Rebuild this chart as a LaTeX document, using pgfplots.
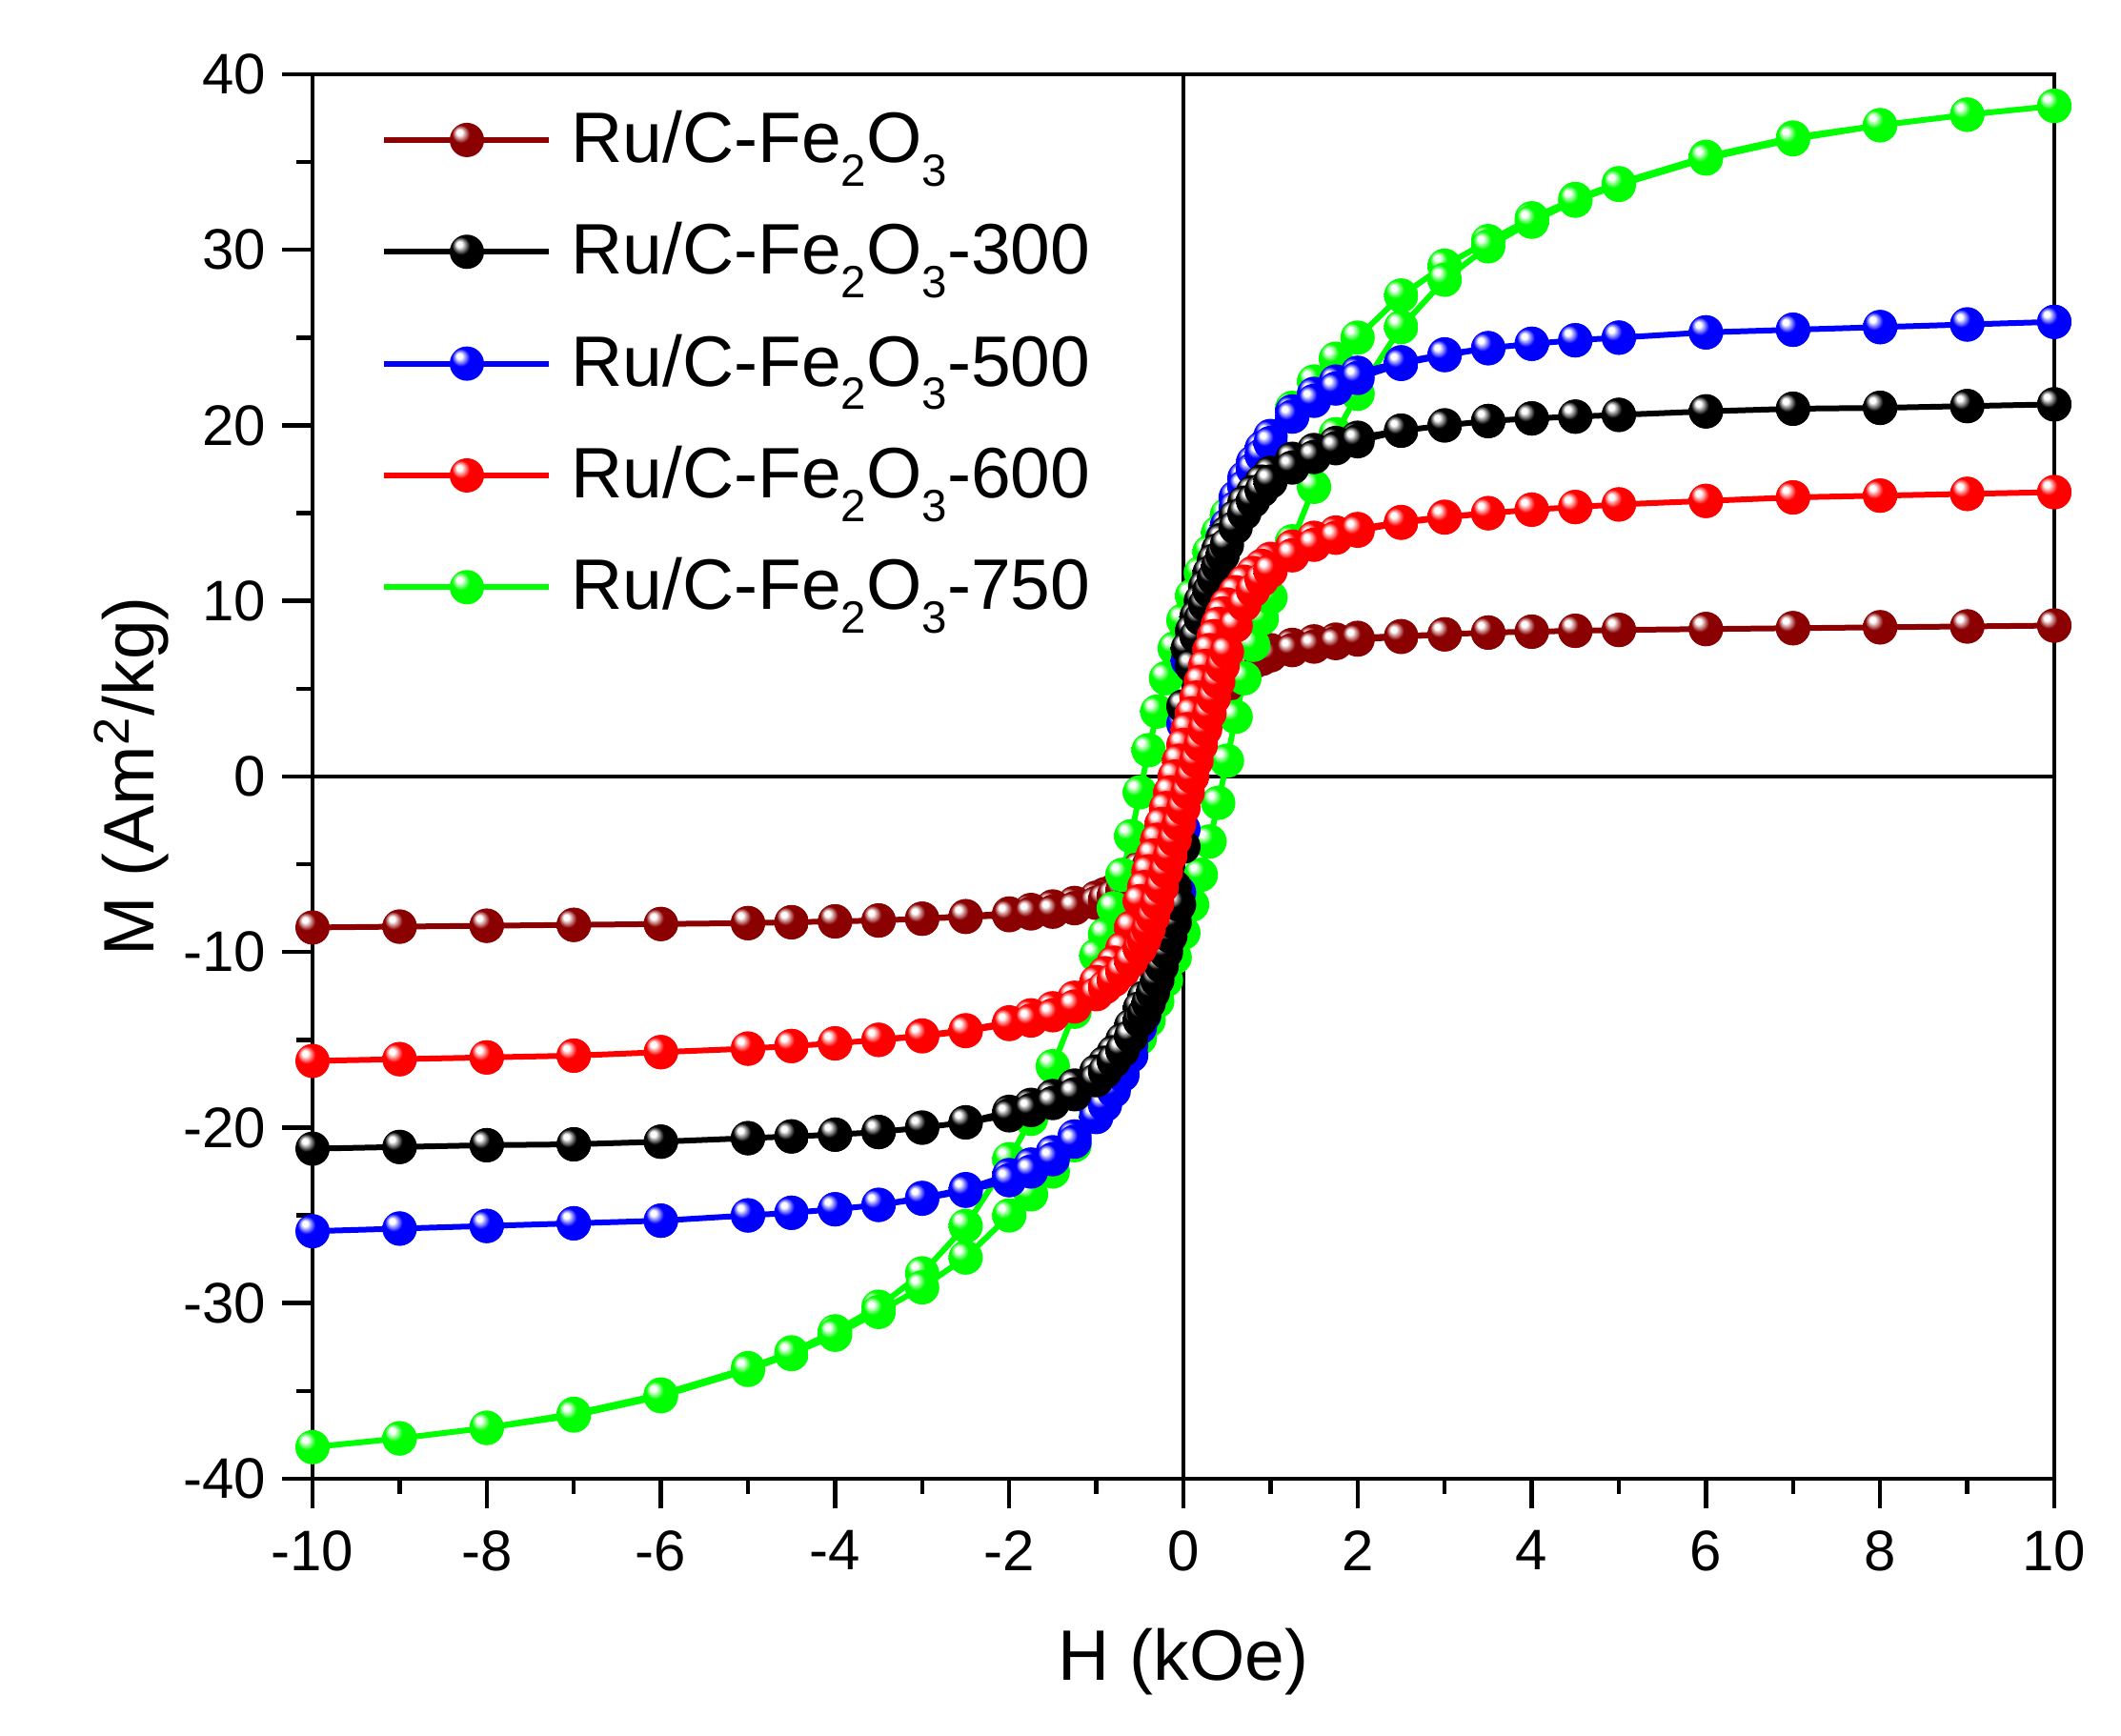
\documentclass[border=0pt]{standalone}
\usepackage{fontspec}
\setmainfont{Liberation Sans}
\usepackage{pgfplots}
\pgfplotsset{compat=1.18}

\definecolor{cdr}{RGB}{139,0,0}
\definecolor{cbk}{RGB}{0,0,0}
\definecolor{cbl}{RGB}{0,0,255}
\definecolor{crd}{RGB}{255,0,0}
\definecolor{cgr}{RGB}{0,255,0}

\colorlet{ballc}{red}
\pgfdeclareradialshading[ballc]{oballshade}{\pgfpoint{-12bp}{12bp}}{%
  color(0bp)=(white);
  color(4bp)=(white);
  color(13bp)=(ballc);
  color(40bp)=(ballc);
  color(50bp)=(ballc!70!black)}
\pgfdeclareplotmark{oball}{%
  \pgfpathcircle{\pgfpointorigin}{\pgfplotmarksize}%
  \pgfshadepath{oballshade}{0}%
  \pgfusepath{}%
}
\tikzset{ballc/.code={\colorlet{ballc}{#1}}}
\pgfplotsset{
  ser/.style={color=#1, line width=1.2pt, mark=oball, mark size=3.6pt, mark options={ballc=#1}},
}
\newcommand{\sub}[1]{\raisebox{-0.33em}{\fontsize{9.5}{10}\selectfont #1}}

\begin{document}
\begin{tikzpicture}
\useasboundingbox (-65.6pt,-54pt) rectangle (379.6pt,310.4pt);
\begin{axis}[
  at={(0pt,0pt)}, anchor=south west,
  scale only axis, width=365.6pt, height=294.8pt,
  xmin=-10, xmax=10, ymin=-40, ymax=40,
  xtick={-10,-8,...,10}, ytick={-40,-30,...,40},
  minor x tick num=1, minor y tick num=1,
  tick align=outside, xtick pos=left, ytick pos=left,
  major tick length=6.3pt, minor tick length=3.3pt,
  every tick/.style={black, line width=0.9pt},
  axis line style={line width=0.9pt},
  tick label style={font=\fontsize{12}{14}\selectfont},
  xticklabel style={yshift=-1.1pt},
  /pgf/number format/assume math mode=true,
  xlabel={H (kOe)}, ylabel={M (Am\textsuperscript{2}/kg)},
  label style={font=\fontsize{15}{18}\selectfont},
  xlabel style={at={(axis description cs:0.5,-0.130)}, anchor=center},
  ylabel style={at={(axis description cs:-0.104,0.5)}, anchor=center},
  legend image code/.code={\draw[mark repeat=2,mark phase=2] plot coordinates {(0pt,0pt) (17.3pt,0pt) (34.6pt,0pt)};},
  legend style={draw=none, fill=none, at={(axis description cs:0,1)}, anchor=north west, xshift=14.3pt, yshift=-5.4pt,
    font=\fontsize{15}{18}\selectfont, row sep=7.1pt, inner sep=0pt,
    /tikz/every odd column/.append style={column sep=2pt}},
  legend cell align=left,
]
\addplot[black, line width=0.7pt, forget plot] coordinates {(-10,0) (10,0)};
\addplot[black, line width=0.7pt, forget plot] coordinates {(0,-40) (0,40)};

% Ru/C-Fe2O3
\addplot[ser=cdr, forget plot] coordinates {
(10,8.6) (9,8.55) (8,8.5) (7,8.45) (6,8.4) (5,8.35) (4.5,8.3) (4,8.25) (3.5,8.2) (3,8.1) (2.5,8.0) (2,7.9) (1.75,7.8) (1.5,7.7) (1.25,7.5) (1,7.2) (0.9,7.0) (0.8,6.8) (0.7,6.5) (0.6,6.2) (0.5,5.8) (0.4,5.1) (0.3,4.1) (0.2,2.9) (0.1,1.6) (0,0.3) (-0.1,-1.0) (-0.2,-2.2) (-0.3,-3.4) (-0.4,-4.4) (-0.5,-5.2) (-0.6,-5.8) (-0.7,-6.2) (-0.8,-6.5) (-0.9,-6.7) (-1,-6.9) (-1.25,-7.2) (-1.5,-7.4) (-1.75,-7.6) (-2,-7.8) (-2.5,-7.95) (-3,-8.1) (-3.5,-8.2) (-4,-8.25) (-4.5,-8.3) (-5,-8.35) (-6,-8.4) (-7,-8.45) (-8,-8.5) (-9,-8.55) (-10,-8.6)
(-9,-8.55) (-8,-8.5) (-7,-8.45) (-6,-8.4) (-5,-8.35) (-4.5,-8.3) (-4,-8.25) (-3.5,-8.2) (-3,-8.1) (-2.5,-8.0) (-2,-7.9) (-1.75,-7.8) (-1.5,-7.7) (-1.25,-7.5) (-1,-7.2) (-0.9,-7.0) (-0.8,-6.8) (-0.7,-6.5) (-0.6,-6.2) (-0.5,-5.8) (-0.4,-5.1) (-0.3,-4.1) (-0.2,-2.9) (-0.1,-1.6) (0,-0.3) (0.1,1.0) (0.2,2.2) (0.3,3.4) (0.4,4.4) (0.5,5.2) (0.6,5.8) (0.7,6.2) (0.8,6.5) (0.9,6.7) (1,6.9) (1.25,7.2) (1.5,7.4) (1.75,7.6) (2,7.8) (2.5,7.95) (3,8.1) (3.5,8.2) (4,8.25) (4.5,8.3) (5,8.35) (6,8.4) (7,8.45) (8,8.5) (9,8.55) (10,8.6)
};

% Ru/C-Fe2O3-750
\addplot[ser=cgr, forget plot] coordinates {
(10,38.2) (9,37.7) (8,37.1) (7,36.4) (6,35.3) (5,33.8) (4.5,32.9) (4,31.8) (3.5,30.5) (3,29.1) (2.5,27.4) (2,25.0) (1.75,23.8) (1.5,22.5) (1.25,21.0) (1,19.3) (0.9,18.5) (0.8,17.6) (0.7,16.7) (0.6,15.8) (0.5,14.9) (0.4,13.9) (0.3,12.8) (0.2,11.6) (0.1,10.3) (0,8.9) (-0.1,7.3) (-0.2,5.6) (-0.3,3.7) (-0.4,1.5) (-0.5,-0.9) (-0.6,-3.4) (-0.7,-5.6) (-0.8,-7.5) (-0.9,-9.0) (-1,-10.2) (-1.25,-13.4) (-1.5,-16.5) (-1.75,-19.5) (-2,-21.8) (-2.5,-25.6) (-3,-28.3) (-3.5,-30.2) (-4,-31.6) (-4.5,-32.8) (-5,-33.7) (-6,-35.2) (-7,-36.3) (-8,-37.1) (-9,-37.7) (-10,-38.2)
(-9,-37.7) (-8,-37.1) (-7,-36.4) (-6,-35.3) (-5,-33.8) (-4.5,-32.9) (-4,-31.8) (-3.5,-30.5) (-3,-29.1) (-2.5,-27.4) (-2,-25.0) (-1.75,-23.8) (-1.5,-22.5) (-1.25,-21.0) (-1,-19.3) (-0.9,-18.5) (-0.8,-17.6) (-0.7,-16.7) (-0.6,-15.8) (-0.5,-14.9) (-0.4,-13.9) (-0.3,-12.8) (-0.2,-11.6) (-0.1,-10.3) (0,-8.9) (0.1,-7.3) (0.2,-5.6) (0.3,-3.7) (0.4,-1.5) (0.5,0.9) (0.6,3.4) (0.7,5.6) (0.8,7.5) (0.9,9.0) (1,10.2) (1.25,13.4) (1.5,16.5) (1.75,19.5) (2,21.8) (2.5,25.6) (3,28.3) (3.5,30.2) (4,31.6) (4.5,32.8) (5,33.7) (6,35.2) (7,36.3) (8,37.1) (9,37.7) (10,38.2)
};

% Ru/C-Fe2O3-500
\addplot[ser=cbl, forget plot] coordinates {
(10,25.9) (9,25.75) (8,25.6) (7,25.45) (6,25.3) (5,25.0) (4.5,24.85) (4,24.65) (3.5,24.4) (3,24.05) (2.5,23.6) (2,23.0) (1.75,22.5) (1.5,21.8) (1.25,20.8) (1,19.4) (0.9,18.7) (0.8,17.9) (0.7,17.0) (0.6,15.9) (0.5,14.3) (0.45,13.6) (0.4,12.9) (0.35,12.1) (0.3,11.3) (0.25,10.5) (0.2,9.6) (0.15,8.7) (0.1,7.8) (0.05,6.6) (0,3.0) (-0.05,-2.5) (-0.1,-6.9) (-0.15,-8.4) (-0.2,-9.4) (-0.25,-10.3) (-0.3,-11.1) (-0.35,-11.9) (-0.4,-12.6) (-0.45,-13.2) (-0.5,-13.9) (-0.6,-15.3) (-0.7,-16.5) (-0.8,-17.5) (-0.9,-18.3) (-1,-19.0) (-1.25,-20.5) (-1.5,-21.4) (-1.75,-22.1) (-2,-22.7) (-2.5,-23.5) (-3,-24.0) (-3.5,-24.4) (-4,-24.65) (-4.5,-24.85) (-5,-25.0) (-6,-25.3) (-7,-25.45) (-8,-25.6) (-9,-25.75) (-10,-25.9)
(-9,-25.75) (-8,-25.6) (-7,-25.45) (-6,-25.3) (-5,-25.0) (-4.5,-24.85) (-4,-24.65) (-3.5,-24.4) (-3,-24.05) (-2.5,-23.6) (-2,-23.0) (-1.75,-22.5) (-1.5,-21.8) (-1.25,-20.8) (-1,-19.4) (-0.9,-18.7) (-0.8,-17.9) (-0.7,-17.0) (-0.6,-15.9) (-0.5,-14.3) (-0.45,-13.6) (-0.4,-12.9) (-0.35,-12.1) (-0.3,-11.3) (-0.25,-10.5) (-0.2,-9.6) (-0.15,-8.7) (-0.1,-7.8) (-0.05,-6.6) (0,-3.0) (0.05,2.5) (0.1,6.9) (0.15,8.4) (0.2,9.4) (0.25,10.3) (0.3,11.1) (0.35,11.9) (0.4,12.6) (0.45,13.2) (0.5,13.9) (0.6,15.3) (0.7,16.5) (0.8,17.5) (0.9,18.3) (1,19.0) (1.25,20.5) (1.5,21.4) (1.75,22.1) (2,22.7) (2.5,23.5) (3,24.0) (3.5,24.4) (4,24.65) (4.5,24.85) (5,25.0) (6,25.3) (7,25.45) (8,25.6) (9,25.75) (10,25.9)
};

% Ru/C-Fe2O3-300
\addplot[ser=cbk, forget plot] coordinates {
(10,21.2) (9,21.1) (8,21.0) (7,20.95) (6,20.8) (5,20.6) (4.5,20.5) (4,20.4) (3.5,20.25) (3,20.0) (2.5,19.7) (2,19.3) (1.75,19.0) (1.5,18.6) (1.25,18.1) (1,17.3) (0.9,16.8) (0.8,16.2) (0.7,15.6) (0.6,14.8) (0.5,13.9) (0.45,13.5) (0.4,12.9) (0.35,12.3) (0.3,11.6) (0.25,10.8) (0.2,10.0) (0.15,9.1) (0.1,8.3) (0.05,7.3) (0,4.0) (-0.05,-1.0) (-0.1,-6.3) (-0.15,-8.0) (-0.2,-9.0) (-0.25,-9.8) (-0.3,-10.6) (-0.35,-11.3) (-0.4,-12.0) (-0.45,-12.6) (-0.5,-13.2) (-0.6,-14.2) (-0.7,-15.0) (-0.8,-15.7) (-0.9,-16.3) (-1,-16.8) (-1.25,-17.6) (-1.5,-18.2) (-1.75,-18.7) (-2,-19.1) (-2.5,-19.7) (-3,-20.0) (-3.5,-20.25) (-4,-20.4) (-4.5,-20.5) (-5,-20.6) (-6,-20.8) (-7,-20.95) (-8,-21.0) (-9,-21.1) (-10,-21.2)
(-9,-21.1) (-8,-21.0) (-7,-20.95) (-6,-20.8) (-5,-20.6) (-4.5,-20.5) (-4,-20.4) (-3.5,-20.25) (-3,-20.0) (-2.5,-19.7) (-2,-19.3) (-1.75,-19.0) (-1.5,-18.6) (-1.25,-18.1) (-1,-17.3) (-0.9,-16.8) (-0.8,-16.2) (-0.7,-15.6) (-0.6,-14.8) (-0.5,-13.9) (-0.45,-13.5) (-0.4,-12.9) (-0.35,-12.3) (-0.3,-11.6) (-0.25,-10.8) (-0.2,-10.0) (-0.15,-9.1) (-0.1,-8.3) (-0.05,-7.3) (0,-4.0) (0.05,1.0) (0.1,6.3) (0.15,8.0) (0.2,9.0) (0.25,9.8) (0.3,10.6) (0.35,11.3) (0.4,12.0) (0.45,12.6) (0.5,13.2) (0.6,14.2) (0.7,15.0) (0.8,15.7) (0.9,16.3) (1,16.8) (1.25,17.6) (1.5,18.2) (1.75,18.7) (2,19.1) (2.5,19.7) (3,20.0) (3.5,20.25) (4,20.4) (4.5,20.5) (5,20.6) (6,20.8) (7,20.95) (8,21.0) (9,21.1) (10,21.2)
};

% Ru/C-Fe2O3-600
\addplot[ser=crd, forget plot] coordinates {
(10,16.2) (9,16.1) (8,16.0) (7,15.9) (6,15.7) (5,15.5) (4.5,15.35) (4,15.2) (3.5,15.0) (3,14.8) (2.5,14.5) (2,14.1) (1.75,13.9) (1.5,13.6) (1.25,13.1) (1,12.4) (0.9,12.0) (0.8,11.6) (0.7,11.1) (0.6,10.5) (0.5,9.8) (0.45,9.3) (0.4,8.7) (0.35,8.0) (0.3,7.2) (0.25,6.3) (0.2,5.4) (0.15,4.5) (0.1,3.6) (0.05,2.7) (0,1.8) (-0.05,0.9) (-0.1,0.0) (-0.15,-0.9) (-0.2,-1.8) (-0.25,-2.7) (-0.3,-3.6) (-0.35,-4.5) (-0.4,-5.4) (-0.45,-6.3) (-0.5,-7.1) (-0.6,-8.6) (-0.7,-9.8) (-0.8,-10.6) (-0.9,-11.2) (-1,-11.7) (-1.25,-12.6) (-1.5,-13.2) (-1.75,-13.6) (-2,-14.0) (-2.5,-14.45) (-3,-14.75) (-3.5,-15.0) (-4,-15.2) (-4.5,-15.35) (-5,-15.5) (-6,-15.7) (-7,-15.9) (-8,-16.0) (-9,-16.1) (-10,-16.2)
(-9,-16.1) (-8,-16.0) (-7,-15.9) (-6,-15.7) (-5,-15.5) (-4.5,-15.35) (-4,-15.2) (-3.5,-15.0) (-3,-14.8) (-2.5,-14.5) (-2,-14.1) (-1.75,-13.9) (-1.5,-13.6) (-1.25,-13.1) (-1,-12.4) (-0.9,-12.0) (-0.8,-11.6) (-0.7,-11.1) (-0.6,-10.5) (-0.5,-9.8) (-0.45,-9.3) (-0.4,-8.7) (-0.35,-8.0) (-0.3,-7.2) (-0.25,-6.3) (-0.2,-5.4) (-0.15,-4.5) (-0.1,-3.6) (-0.05,-2.7) (0,-1.8) (0.05,-0.9) (0.1,0.0) (0.15,0.9) (0.2,1.8) (0.25,2.7) (0.3,3.6) (0.35,4.5) (0.4,5.4) (0.45,6.3) (0.5,7.1) (0.6,8.6) (0.7,9.8) (0.8,10.6) (0.9,11.2) (1,11.7) (1.25,12.6) (1.5,13.2) (1.75,13.6) (2,14.0) (2.5,14.45) (3,14.75) (3.5,15.0) (4,15.2) (4.5,15.35) (5,15.5) (6,15.7) (7,15.9) (8,16.0) (9,16.1) (10,16.2)
};

\addlegendimage{ser=cdr}
\addlegendentry{Ru/C-Fe\sub{2}O\sub{3}}
\addlegendimage{ser=cbk}
\addlegendentry{Ru/C-Fe\sub{2}O\sub{3}-300}
\addlegendimage{ser=cbl}
\addlegendentry{Ru/C-Fe\sub{2}O\sub{3}-500}
\addlegendimage{ser=crd}
\addlegendentry{Ru/C-Fe\sub{2}O\sub{3}-600}
\addlegendimage{ser=cgr}
\addlegendentry{Ru/C-Fe\sub{2}O\sub{3}-750}
\end{axis}
\end{tikzpicture}
\end{document}
